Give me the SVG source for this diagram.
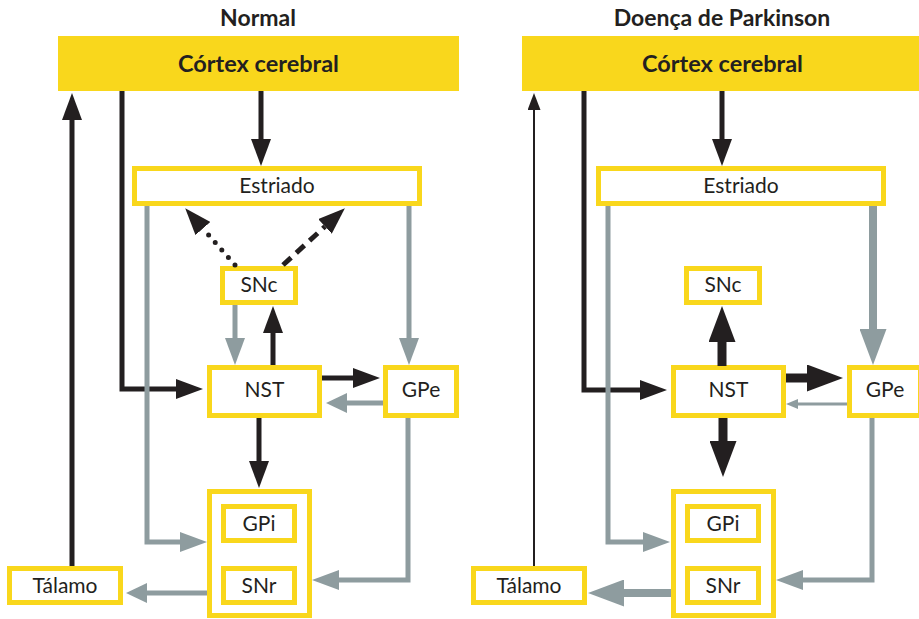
<svg xmlns="http://www.w3.org/2000/svg" width="919" height="619" viewBox="0 0 919 619">
  <style>
    text { font-family: Lato, "Liberation Sans", "DejaVu Sans", sans-serif; fill: #231F20; text-anchor: middle; }
    .title { font-size: 23px; font-weight: 700; }
    .cortex-label { font-size: 23.5px; font-weight: 700; }
    .label { font-size: 21px; }
    .cortex { fill: #F9D71C; }
    .box { fill: #FFFFFF; stroke: #F9D71C; stroke-width: 5; }
    .k { fill: none; stroke: #231F20; stroke-width: 5; }
    .g { fill: none; stroke: #8E9C9F; stroke-width: 5; }
    .k-thin { fill: none; stroke: #231F20; stroke-width: 2; }
    .g-thin { fill: none; stroke: #8E9C9F; stroke-width: 3; }
    .k-thick { fill: none; stroke: #231F20; stroke-width: 9; }
    .g-thick { fill: none; stroke: #8E9C9F; stroke-width: 8; }
    .dotted { stroke-dasharray: 0 10; stroke-linecap: round; }
    .dashed { stroke-dasharray: 11 7; }
  </style>
  <defs>
    <marker id="hb" markerUnits="userSpaceOnUse" viewBox="0 0 27 20" markerWidth="27" markerHeight="20" refX="0" refY="10" orient="auto">
      <path d="M0,0 L27,10 L0,20 Z" fill="#231F20"/>
    </marker>
    <marker id="hg" markerUnits="userSpaceOnUse" viewBox="0 0 27 20" markerWidth="27" markerHeight="20" refX="0" refY="10" orient="auto">
      <path d="M0,0 L27,10 L0,20 Z" fill="#8E9C9F"/>
    </marker>
    <marker id="hgs" markerUnits="userSpaceOnUse" viewBox="0 0 21 20" markerWidth="21" markerHeight="20" refX="0" refY="10" orient="auto">
      <path d="M0,0 L21,10 L0,20 Z" fill="#8E9C9F"/>
    </marker>
    <marker id="hbl" markerUnits="userSpaceOnUse" viewBox="0 0 36 27" markerWidth="36" markerHeight="27" refX="0" refY="13.5" orient="auto">
      <path d="M0,0 L36,13.5 L0,27 Z" fill="#231F20"/>
    </marker>
    <marker id="hgl" markerUnits="userSpaceOnUse" viewBox="0 0 36 27" markerWidth="36" markerHeight="27" refX="0" refY="13.5" orient="auto">
      <path d="M0,0 L36,13.5 L0,27 Z" fill="#8E9C9F"/>
    </marker>
    <marker id="hbt" markerUnits="userSpaceOnUse" viewBox="0 0 17 13" markerWidth="17" markerHeight="13" refX="0" refY="6.5" orient="auto">
      <path d="M0,0 L17,6.5 L0,13 Z" fill="#231F20"/>
    </marker>
    <marker id="hgt" markerUnits="userSpaceOnUse" viewBox="0 0 12 10" markerWidth="12" markerHeight="10" refX="0" refY="5" orient="auto">
      <path d="M0,0 L12,5 L0,10 Z" fill="#8E9C9F"/>
    </marker>
  </defs>

  <!-- ===== Normal ===== -->
  <text class="title" x="258" y="26">Normal</text>

  <g id="n-cortex">
    <rect class="cortex" x="58" y="36" width="401" height="55"/>
    <text class="cortex-label" x="258.5" y="72">Córtex cerebral</text>
  </g>
  <g id="n-estriado">
    <rect class="box" x="134.5" y="168.5" width="285" height="35"/>
    <text class="label" x="277" y="193">Estriado</text>
  </g>
  <g id="n-snc">
    <rect class="box" x="222.5" y="268.5" width="73" height="34"/>
    <text class="label" x="259" y="292">SNc</text>
  </g>
  <g id="n-nst">
    <rect class="box" x="209.5" y="367.5" width="110" height="48"/>
    <text class="label" x="264.5" y="397">NST</text>
  </g>
  <g id="n-gpe">
    <rect class="box" x="385.5" y="367.5" width="71" height="48"/>
    <text class="label" x="421" y="397">GPe</text>
  </g>
  <g id="n-gpi-snr">
    <rect class="box" x="209.5" y="491.5" width="100" height="124"/>
  </g>
  <g id="n-gpi">
    <rect class="box" x="223.5" y="506.5" width="71" height="34"/>
    <text class="label" x="259" y="531">GPi</text>
  </g>
  <g id="n-snr">
    <rect class="box" x="223.5" y="568.5" width="71" height="34"/>
    <text class="label" x="259" y="593">SNr</text>
  </g>
  <g id="n-talamo">
    <rect class="box" x="9.5" y="568.5" width="111" height="34"/>
    <text class="label" x="65" y="593">Tálamo</text>
  </g>

  <g id="n-connectors">
    <path class="k" d="M72,566 V120" marker-end="url(#hb)"/>
    <path class="k" d="M122,91 V389 H176" marker-end="url(#hb)"/>
    <path class="k" d="M261,91 V139" marker-end="url(#hb)"/>
    <path class="k dotted" d="M235,265 L203,228.5" marker-end="url(#hb)"/>
    <path class="k dashed" d="M283,265 L325,226.5" marker-end="url(#hb)"/>
    <path class="g" d="M235,305 V338" marker-end="url(#hg)"/>
    <path class="k" d="M273,365 V333" marker-end="url(#hb)"/>
    <path class="k" d="M322,378 H353" marker-end="url(#hb)"/>
    <path class="g" d="M383,403 H347" marker-end="url(#hgs)"/>
    <path class="k" d="M259,418 V461" marker-end="url(#hb)"/>
    <path class="g" d="M147,206 V542 H180" marker-end="url(#hg)"/>
    <path class="g" d="M409,206 V338" marker-end="url(#hg)"/>
    <path class="g" d="M408,418 V580 H339" marker-end="url(#hg)"/>
    <path class="g" d="M207,593 H147" marker-end="url(#hgs)"/>
  </g>

  <!-- ===== Doença de Parkinson ===== -->
  <text class="title" x="722" y="26">Doença de Parkinson</text>

  <g id="p-cortex">
    <rect class="cortex" x="522" y="36" width="401" height="55"/>
    <text class="cortex-label" x="722.5" y="72">Córtex cerebral</text>
  </g>
  <g id="p-estriado">
    <rect class="box" x="598.5" y="168.5" width="285" height="35"/>
    <text class="label" x="741" y="193">Estriado</text>
  </g>
  <g id="p-snc">
    <rect class="box" x="686.5" y="268.5" width="73" height="34"/>
    <text class="label" x="723" y="292">SNc</text>
  </g>
  <g id="p-nst">
    <rect class="box" x="673.5" y="367.5" width="110" height="48"/>
    <text class="label" x="728.5" y="397">NST</text>
  </g>
  <g id="p-gpe">
    <rect class="box" x="849.5" y="367.5" width="71" height="48"/>
    <text class="label" x="885" y="397">GPe</text>
  </g>
  <g id="p-gpi-snr">
    <rect class="box" x="673.5" y="491.5" width="100" height="124"/>
  </g>
  <g id="p-gpi">
    <rect class="box" x="687.5" y="506.5" width="71" height="34"/>
    <text class="label" x="723" y="531">GPi</text>
  </g>
  <g id="p-snr">
    <rect class="box" x="687.5" y="568.5" width="71" height="34"/>
    <text class="label" x="723" y="593">SNr</text>
  </g>
  <g id="p-talamo">
    <rect class="box" x="473.5" y="568.5" width="111" height="34"/>
    <text class="label" x="529" y="593">Tálamo</text>
  </g>

  <g id="p-connectors">
    <path class="k-thin" d="M534,566 V110" marker-end="url(#hbt)"/>
    <path class="k" d="M584,91 V390 H640" marker-end="url(#hb)"/>
    <path class="k" d="M722,91 V139" marker-end="url(#hb)"/>
    <path class="g-thick" d="M873,206 V329" marker-end="url(#hgl)"/>
    <path class="k-thick" d="M722,366 V342" marker-end="url(#hbl)"/>
    <path class="k-thick" d="M786,378 H807" marker-end="url(#hbl)"/>
    <path class="g-thin" d="M847,404 H798" marker-end="url(#hgt)"/>
    <path class="k-thick" d="M723,418 V441" marker-end="url(#hbl)"/>
    <path class="g" d="M608,206 V542 H643" marker-end="url(#hg)"/>
    <path class="g" d="M872,418 V580 H803" marker-end="url(#hg)"/>
    <path class="g-thick" d="M671,593 H624" marker-end="url(#hgl)"/>
  </g>
</svg>
